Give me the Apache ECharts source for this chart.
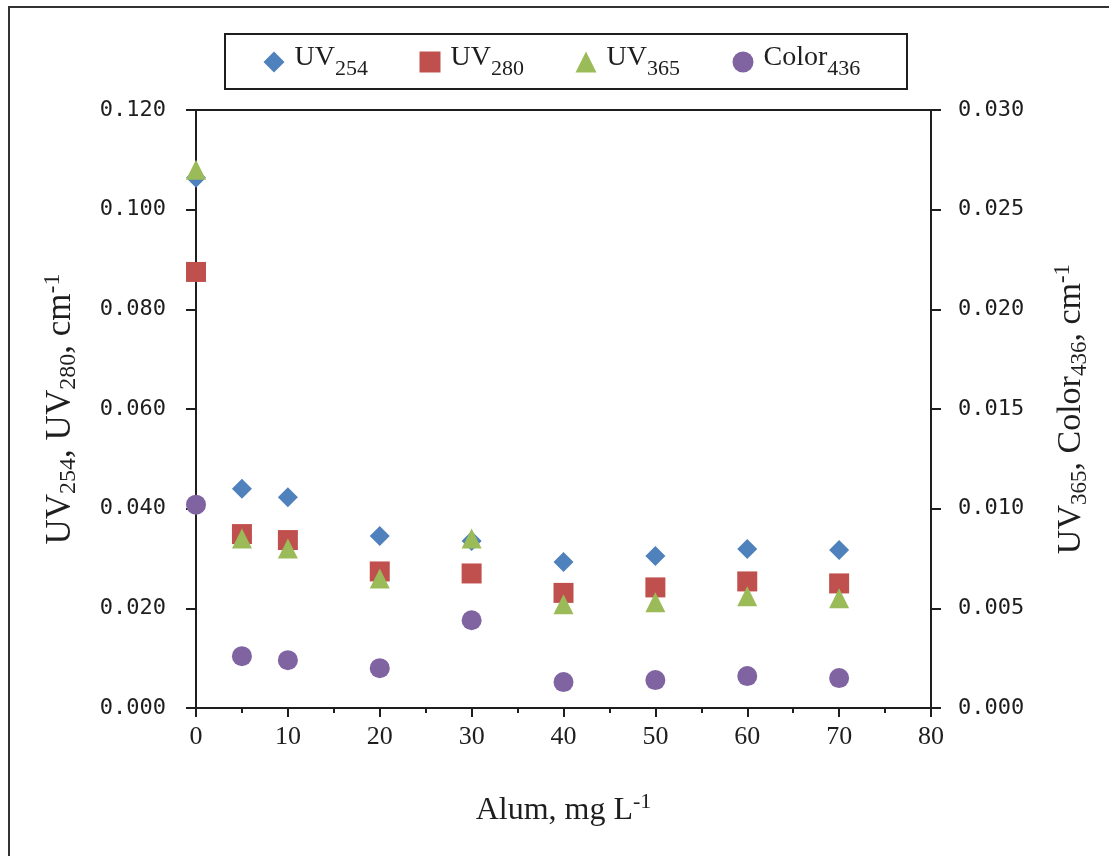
<!DOCTYPE html>
<html>
<head>
<meta charset="utf-8">
<title>Alum dose vs UV absorbance and colour</title>
<script src="https://cdn.jsdelivr.net/npm/echarts@6/dist/echarts.min.js"></script>
<style>
  html, body { margin: 0; padding: 0; background: #fff; }
  #chart { width: 1109px; height: 856px; }
</style>
</head>
<body>
<div id="chart"></div>
<script>
// Alum dose (mg/L) and measured absorbances (1/cm)
const alumDose = [0, 5, 10, 20, 30, 40, 50, 60, 70];
const uv254    = [0.1064, 0.0440, 0.0423, 0.0345, 0.0335, 0.0293, 0.0305, 0.0319, 0.0317];
const uv280    = [0.0875, 0.0349, 0.0337, 0.0274, 0.0270, 0.0231, 0.0242, 0.0254, 0.0250];
// right axis
const uv365    = [0.0270, 0.0085, 0.0080, 0.0065, 0.0085, 0.0052, 0.0053, 0.0056, 0.0055];
const color436 = [0.0102, 0.0026, 0.0024, 0.0020, 0.0044, 0.0013, 0.0014, 0.0016, 0.0015];

// rich-text labels with subscripts
const seriesNames = ['UV254', 'UV280', 'UV365', 'Color436'];
const seriesLabels = {
  UV254: '{g|\u200b}{m|UV}{s|254}',
  UV280: '{g|\u200b}{m|UV}{s|280}',
  UV365: '{g|\u200b}{m|UV}{s|365}',
  Color436: '{g|\u200b}{m|Color}{s|436}'
};
const leftAxisTitle  = '{m|UV}{s|254}{m|, UV}{s|280}{m|, cm}{p|-1}';
const rightAxisTitle = '{m|UV}{s|365}{m|, Color}{s|436}{m|, cm}{p|-1}';
const xAxisTitle     = '{m|Alum, mg L}{p|-1}';

const palette = ['#4F81BD', '#C0504D', '#9BBB59', '#8064A2'];
const symbols = ['diamond', 'rect', 'triangle', 'circle'];
const legendIconCenter = [274, 430, 586, 743];
const legendIcon = 21;

const serif = 'Liberation Serif, Times New Roman, serif';
const mono = 'DejaVu Sans Mono, monospace';
const ink = '#1e1e1e';

function pairs(ys) { return alumDose.map((x, i) => [x, ys[i]]); }

const legendRich = {
  g: { lineHeight: 36, fontSize: 10 },
  m: { fontFamily: serif, fontSize: 28, color: ink, lineHeight: 27, verticalAlign: 'top', padding: [0, 0, 0, 5] },
  s: { fontFamily: serif, fontSize: 22, color: ink, lineHeight: 22, verticalAlign: 'bottom' }
};

function titleRich(size, sub) {
  return {
    m: { fontFamily: serif, fontSize: size, color: ink, lineHeight: 40, verticalAlign: 'middle' },
    s: { fontFamily: serif, fontSize: sub, color: ink, lineHeight: 17, verticalAlign: 'bottom' },
    p: { fontFamily: serif, fontSize: sub, color: ink, lineHeight: 22, verticalAlign: 'top' }
  };
}

const axisLine = { show: true, lineStyle: { color: ink, width: 2 } };

const chart = echarts.init(document.getElementById('chart'), null, { renderer: 'canvas' });

chart.setOption({
  animation: false,
  backgroundColor: '#fff',
  graphic: [
    { type: 'rect', shape: { x: 9, y: 7, width: 1300, height: 1000 },
      style: { fill: null, stroke: '#333', lineWidth: 2 }, silent: true },
    { type: 'rect', shape: { x: 225, y: 34, width: 682, height: 55 },
      style: { fill: null, stroke: ink, lineWidth: 2 }, silent: true }
  ],
  grid: {
    left: 196, right: 178, top: 110, bottom: 148,
    show: true, borderColor: ink, borderWidth: 2, backgroundColor: 'transparent'
  },
  legend: seriesNames.map((name, i) => ({
    data: [name],
    left: legendIconCenter[i] - legendIcon / 2,
    top: 44,
    padding: 0,
    itemWidth: legendIcon,
    itemHeight: legendIcon,
    selectedMode: false,
    formatter: n => seriesLabels[n],
    textStyle: { rich: legendRich }
  })),
  xAxis: {
    type: 'value',
    min: 0, max: 80, interval: 10,
    axisLine: axisLine,
    axisTick: { show: true, inside: false, length: 9, lineStyle: { color: ink, width: 2 } },
    minorTick: { show: true, splitNumber: 2, length: 5, lineStyle: { color: ink, width: 2 } },
    splitLine: { show: false },
    axisLabel: { margin: 16, fontFamily: serif, fontSize: 26, color: ink },
    name: xAxisTitle,
    nameLocation: 'middle',
    nameGap: 83,
    nameTextStyle: { rich: titleRich(32, 22) }
  },
  yAxis: [
    {
      type: 'value', position: 'left',
      min: 0, max: 0.12, interval: 0.02,
      axisLine: axisLine,
      axisTick: { show: true, inside: false, length: 10, lineStyle: { color: ink, width: 2 } },
      splitLine: { show: false },
      axisLabel: { margin: 30, fontFamily: mono, fontSize: 22, color: ink,
                   formatter: v => v.toFixed(3) },
      name: leftAxisTitle,
      nameLocation: 'middle',
      nameRotate: 90,
      nameGap: 115,
      nameTextStyle: { rich: titleRich(35, 24) }
    },
    {
      type: 'value', position: 'right',
      min: 0, max: 0.03, interval: 0.005,
      axisLine: axisLine,
      axisTick: { show: true, inside: false, length: 10, lineStyle: { color: ink, width: 2 } },
      splitLine: { show: false },
      axisLabel: { margin: 27, fontFamily: mono, fontSize: 22, color: ink,
                   formatter: v => v.toFixed(3) },
      name: rightAxisTitle,
      nameLocation: 'middle',
      nameRotate: 90,
      nameGap: 120,
      nameTextStyle: { rich: titleRich(34, 23) }
    }
  ],
  series: [
    { name: 'UV254', type: 'scatter', yAxisIndex: 0, data: pairs(uv254) },
    { name: 'UV280', type: 'scatter', yAxisIndex: 0, data: pairs(uv280) },
    { name: 'UV365', type: 'scatter', yAxisIndex: 1, data: pairs(uv365) },
    { name: 'Color436', type: 'scatter', yAxisIndex: 1, data: pairs(color436) }
  ].map((s, i) => Object.assign(s, {
    symbol: symbols[i],
    symbolSize: 20,
    itemStyle: { color: palette[i], opacity: 1 },
    emphasis: { disabled: true }
  }))
});
</script>
</body>
</html>
